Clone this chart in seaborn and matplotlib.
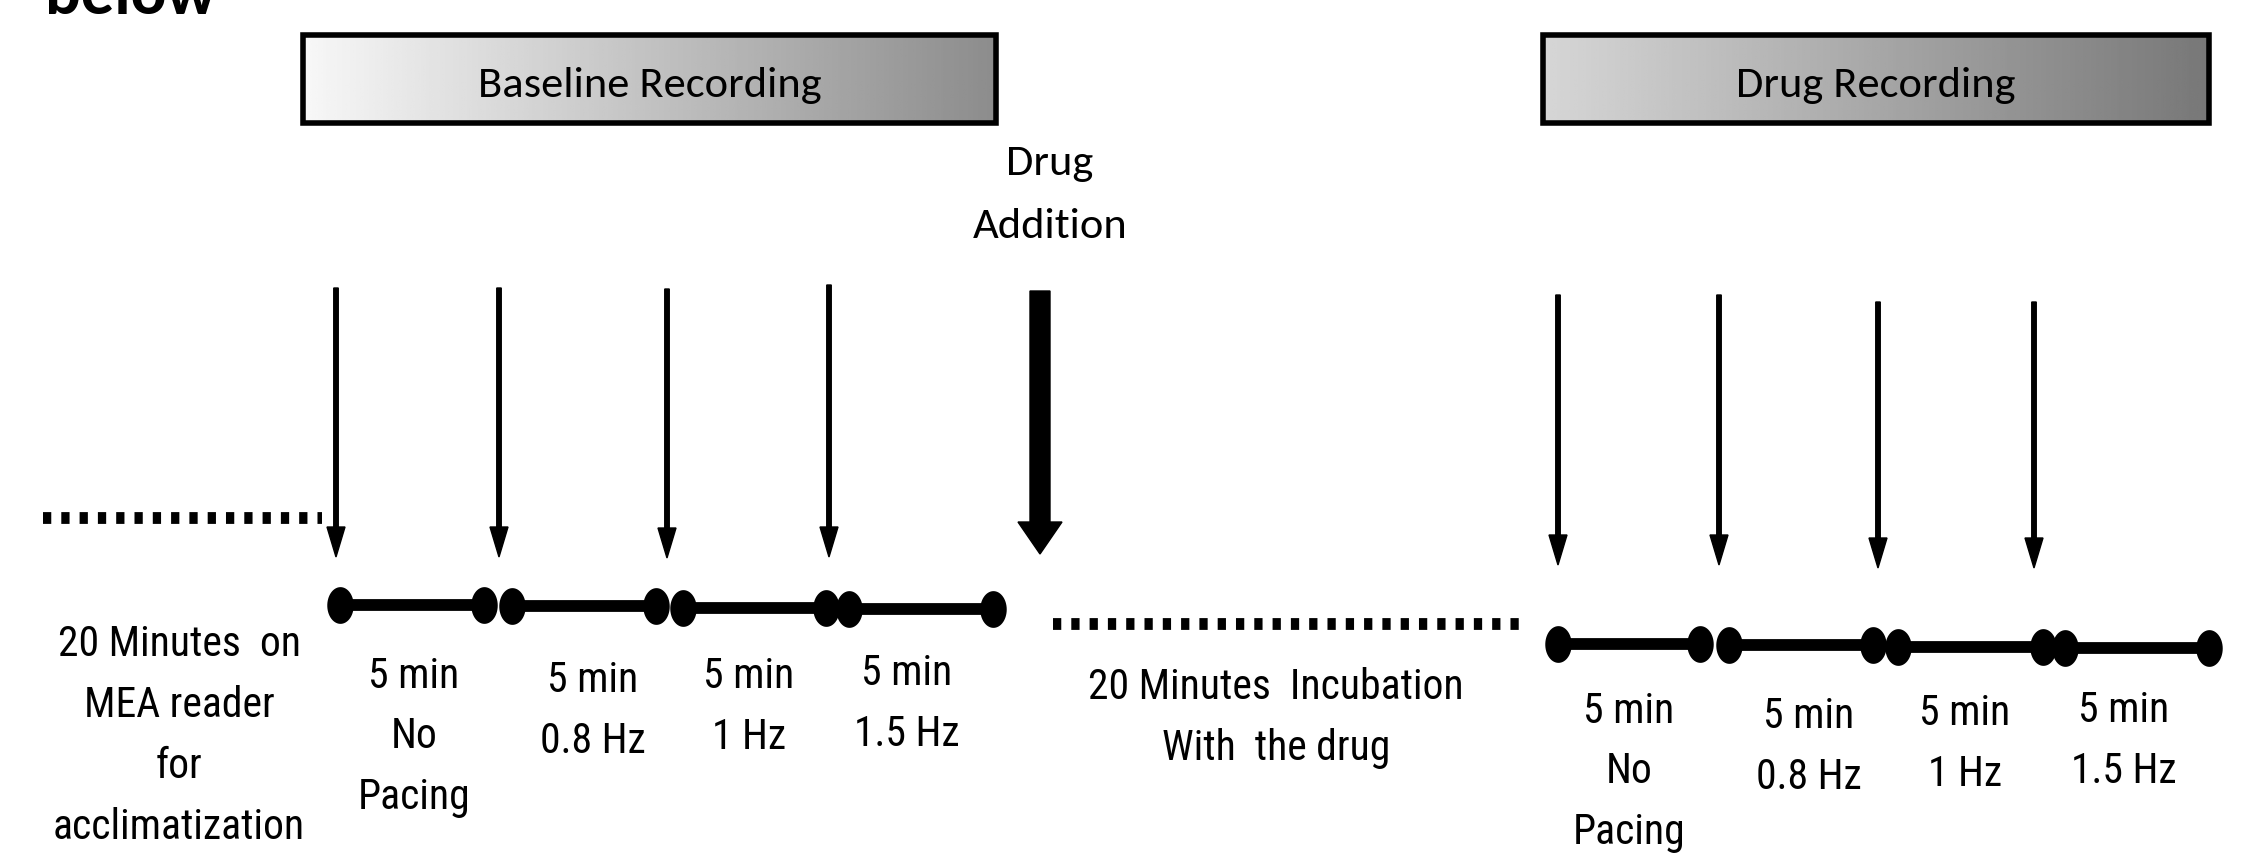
import numpy as np
import pandas as pd
import matplotlib.pyplot as plt
import seaborn as sns
from matplotlib import font_manager
from matplotlib.patches import Rectangle

# protocol timeline, all in picture pixels (x to the right, y downwards)
box_names = ["Baseline Recording", "Drug Recording"]
box_left = [303, 1543]
box_right = [996, 2209]
box_shade_left = [0.97, 0.84]
box_shade_right = [0.55, 0.47]

base_arrow_x = [336, 499, 667, 829]
base_arrow_top = [289, 289, 290, 286]
base_arrow_tip = [558, 558, 559, 558]
drug_arrow_x = [1558, 1719, 1878, 2034]
drug_arrow_top = [296, 296, 303, 303]
drug_arrow_tip = [566, 566, 569, 569]

base_seg_start = [340, 512, 683, 849]
base_seg_end = [484, 656, 826, 993]
base_seg_y = [606, 607, 609, 610]
drug_seg_start = [1558, 1729, 1898, 2065]
drug_seg_end = [1700, 1873, 2043, 2209]
drug_seg_y = [645, 646, 648, 649]

step_labels = ["5 min\nNo\nPacing", "5 min\n0.8 Hz", "5 min\n1 Hz", "5 min\n1.5 Hz"]
base_label_x = [414, 593, 749, 907]
base_label_y = [737, 711, 707, 704]
drug_label_x = [1629, 1809, 1965, 2124]
drug_label_y = [772, 747, 744, 741]

sns.set_theme(style="white")

installed = {f.name for f in font_manager.fontManager.ttflist}


def pick(cands):
    for c in cands:
        if c in installed:
            return c
    return "DejaVu Sans"


narrow = pick(["Liberation Sans Narrow", "Arial Narrow", "Roboto Condensed", "Archivo Narrow",
               "PT Sans Narrow", "Fira Sans Condensed", "IBM Plex Sans Condensed"])
calib = pick(["Carlito", "Calibri", narrow])
plt.rcParams["font.family"] = [narrow, "DejaVu Sans"]

W, H = 2241, 854
fig = plt.figure(figsize=(W / 100, H / 100), dpi=100)
ax = fig.add_axes([0, 0, 1, 1])
ax.set_xlim(0, W)
ax.set_ylim(H, 0)

# cut-off text at the very top
ax.text(45, 14, "below", fontsize=48, fontweight="bold", family=[calib, "DejaVu Sans"],
        ha="left", va="baseline", color="black")

# header boxes with grey gradient
for name, l, r, c0, c1 in zip(box_names, box_left, box_right, box_shade_left, box_shade_right):
    grad = np.linspace(c0, c1, 256).reshape(1, -1)
    ax.imshow(grad, cmap="gray", vmin=0, vmax=1, extent=(l, r, 124, 36), aspect="auto", zorder=1)
    ax.add_patch(Rectangle((l, 36), r - l, 88, fill=False, ec="black", lw=4, zorder=2))
    ax.text((l + r) / 2, 85, name, fontsize=32, family=[calib, "DejaVu Sans"],
            ha="center", va="center", color="black", zorder=3)

# main time axis
ax.annotate("", xy=(2262, 577), xytext=(40, 567),
            arrowprops=dict(arrowstyle="-|>,head_width=0.5,head_length=1.0", lw=5.5, color="black",
                            shrinkA=0, shrinkB=0, mutation_scale=22))

# dotted waiting periods
ax.plot([43, 322], [519, 519], color="black", lw=8.5, dashes=(0.7, 0.85), dash_capstyle="butt")
ax.plot([1053, 1526], [625, 625], color="black", lw=8.5, dashes=(0.7, 0.85), dash_capstyle="butt")

# recording trigger arrows
for xs, tops, tips in [(base_arrow_x, base_arrow_top, base_arrow_tip),
                       (drug_arrow_x, drug_arrow_top, drug_arrow_tip)]:
    for x, t, p in zip(xs, tops, tips):
        ax.arrow(x, t, 0, p - t, width=4.5, head_width=18, head_length=30,
                 length_includes_head=True, color="black", zorder=4)

# drug addition arrow
ax.arrow(1040, 292, 0, 263, width=20, head_width=44, head_length=32,
         length_includes_head=True, color="black", zorder=4)
ax.text(1050, 195, "Drug\nAddition", fontsize=32, family=[calib, "DejaVu Sans"],
        ha="center", va="center", linespacing=1.9, color="black")

# 5 min recording windows as dumbbells
segs = pd.DataFrame({
    "start": base_seg_start + drug_seg_start,
    "end": base_seg_end + drug_seg_end,
    "y": base_seg_y + drug_seg_y,
})
segs["seg"] = range(len(segs))
long = pd.concat([
    segs[["seg", "start", "y"]].rename(columns={"start": "x"}),
    segs[["seg", "end", "y"]].rename(columns={"end": "x"}),
])
sns.lineplot(data=long, x="x", y="y", units="seg", estimator=None, color="black",
             lw=8.5, sort=False, ax=ax, legend=False)
t = np.linspace(0, 2 * np.pi, 60)
ellipse = np.column_stack([0.36 * np.cos(t), 0.5 * np.sin(t)])
sns.scatterplot(data=long, x="x", y="y", marker=ellipse, s=700, color="black",
                edgecolor="black", linewidth=0, ax=ax, legend=False, zorder=5)
ax.set_xlim(0, W)
ax.set_ylim(H, 0)
ax.axis("off")

# labels under the timeline
lab_kw = dict(fontsize=30, ha="center", va="center", linespacing=1.62, color="black")
ax.text(179, 736, "20 Minutes  on\nMEA reader\nfor\nacclimatization", **lab_kw)
ax.text(1276, 718, "20 Minutes  Incubation\nWith  the drug", **lab_kw)
for lab, x, y in zip(step_labels, base_label_x, base_label_y):
    ax.text(x, y, lab, **lab_kw)
for lab, x, y in zip(step_labels, drug_label_x, drug_label_y):
    ax.text(x, y, lab, **lab_kw)

fig.savefig("out.png", dpi=100)
